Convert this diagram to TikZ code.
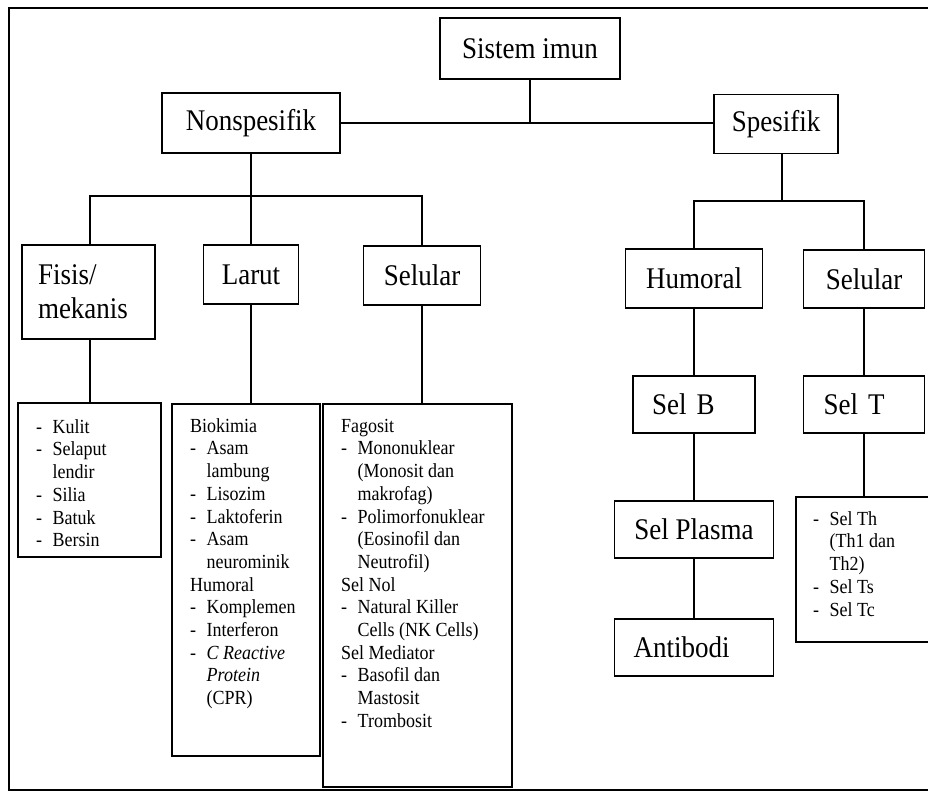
\documentclass[tikz,border=0pt]{standalone}
\usepackage{fontspec}
\setmainfont{Liberation Serif}[FakeStretch=0.9]
\newcommand\bxfont{\fontsize{30}{34}\selectfont}
\newcommand\lsfont{\fontsize{20}{22.7}\selectfont}
\newcommand\lsi[1]{\makebox[16.5pt][l]{-}#1}
\newcommand\lsc[1]{\hspace*{16.5pt}#1}
\newcommand\fst{\rule{0pt}{15pt}}
\begin{document}
\begin{tikzpicture}[x=1pt,y=-1pt,
  bx/.style={draw, line width=1.2pt, inner sep=0pt, font=\bxfont},
  lbox/.style={draw, line width=1.2pt, inner sep=0pt},
  ltext/.style={anchor=north west, inner sep=0pt, align=left, font=\lsfont},
  conn/.style={line width=1.1pt}]
\useasboundingbox (0,0) rectangle (928,793);
\draw[line width=2.6pt] (9,8) rectangle (945,790);
% top levels
\node[bx, minimum width=180pt, minimum height=61pt] (imun) at (530,48.5) {Sistem imun};
\node[bx, minimum width=178pt, minimum height=60pt] (nonsp) at (251,123) {Nonspesifik};
\node[bx, minimum width=124pt, minimum height=59pt] (spes) at (776,124) {Spesifik};
% nonspesifik children
\node[bx, minimum height=94pt, text width=101pt, inner xsep=16pt, align=left] (fisis) at (88.5,292) {Fisis/\\[0pt]mekanis};
\node[bx, minimum width=95pt, minimum height=59pt] (larut) at (251,274.5) {Larut};
\node[bx, minimum width=117pt, minimum height=59pt] (selL) at (422,275.5) {Selular};
% spesifik children
\node[bx, minimum width=137pt, minimum height=59pt] (humoral) at (694,278.5) {Humoral};
\node[bx, minimum width=121pt, minimum height=58pt] (selR) at (864,279) {Selular};
\node[bx, minimum height=57pt, text width=84pt, inner xsep=19pt, align=left] (selB) at (694,404.5) {Sel B};
\node[bx, minimum height=57pt, text width=81pt, inner xsep=20pt, align=left] (selT) at (864,404.5) {Sel T};
\node[bx, minimum width=159pt, minimum height=57pt] (plasma) at (694,529.5) {Sel Plasma};
\node[bx, minimum height=57pt, text width=121pt, inner xsep=19pt, align=left] (antibodi) at (694,647.5) {Antibodi};
% list boxes
\node[lbox, minimum width=143pt, minimum height=154pt] (lfisis) at (89.5,480) {};
\node[lbox, minimum width=148pt, minimum height=352pt] (llarut) at (246,580) {};
\node[lbox, minimum width=189pt, minimum height=383pt] (lsel) at (417.5,595.5) {};
\node[lbox, minimum width=150pt, minimum height=145pt] (lselT) at (871,569.5) {};
% list texts
\node[ltext] (tfisis) at (36,418) {\fst\lsi{Kulit}\\\lsi{Selaput}\\\lsc{lendir}\\\lsi{Silia}\\\lsi{Batuk}\\\lsi{Bersin}};
\node[ltext] (tlarut) at (190,417) {\fst Biokimia\\\lsi{Asam}\\\lsc{lambung}\\\lsi{Lisozim}\\\lsi{Laktoferin}\\\lsi{Asam}\\\lsc{neurominik}\\Humoral\\\lsi{Komplemen}\\\lsi{Interferon}\\\lsi{\textit{C Reactive}}\\\lsc{\textit{Protein}}\\\lsc{(CPR)}};
\node[ltext] (tsel) at (341,417) {\fst Fagosit\\\lsi{Mononuklear}\\\lsc{(Monosit dan}\\\lsc{makrofag)}\\\lsi{Polimorfonuklear}\\\lsc{(Eosinofil dan}\\\lsc{Neutrofil)}\\Sel Nol\\\lsi{Natural Killer}\\\lsc{Cells (NK Cells)}\\Sel Mediator\\\lsi{Basofil dan}\\\lsc{Mastosit}\\\lsi{Trombosit}};
\node[ltext] (tselT) at (813,510) {\fst\lsi{Sel Th}\\\lsc{(Th1 dan}\\\lsc{Th2)}\\\lsi{Sel Ts}\\\lsi{Sel Tc}};
% connectors
\coordinate (nj) at (251,196);
\coordinate (sj) at (782,201);
\draw[conn] (imun.south) -- (imun.south |- nonsp.east);
\draw[conn] (nonsp.east) -- (nonsp.east -| spes.west);
\draw[conn] (nonsp.south) -- (nj);
\draw[conn] (fisis.north -| 90,0) |- (nj) -| (selL.north);
\draw[conn] (nj) -- (larut.north);
\draw[conn] (sj |- spes.south) -- (sj);
\draw[conn] (humoral.north) |- (sj) -| (selR.north);
\draw[conn] (fisis.south -| 90,0) -- (lfisis.north -| 90,0);
\draw[conn] (larut.south) -- (larut.south |- llarut.north);
\draw[conn] (selL.south) -- (selL.south |- lsel.north);
\draw[conn] (humoral.south) -- (selB.north);
\draw[conn] (selB.south) -- (plasma.north);
\draw[conn] (plasma.south) -- (antibodi.north);
\draw[conn] (selR.south) -- (selT.north);
\draw[conn] (selT.south) -- (selT.south |- lselT.north);
\end{tikzpicture}
\end{document}
